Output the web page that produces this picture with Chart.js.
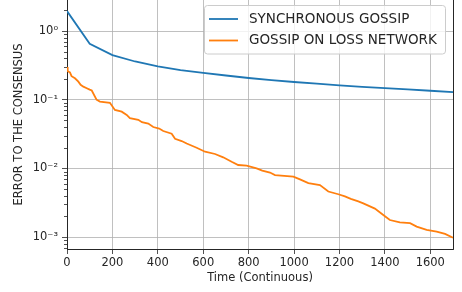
<!DOCTYPE html>
<html lang="en">
<head>
    <meta charset="UTF-8">
    <title>Error to the consensus</title>
    <script src="https://cdn.jsdelivr.net/npm/chart.js"></script>
    <style>
        html, body {
            margin: 0;
            padding: 0;
            background: white;
        }
        .chart-box {
            width: 462px;
            height: 292px;
        }
    </style>
</head>
<body>
    <div class="chart-box">
        <canvas id="errChart" width="462" height="292"></canvas>
    </div>

    <script>
        // series labels
        const seriesNames = ['SYNCHRONOUS GOSSIP', 'GOSSIP ON LOSS NETWORK'];

        // synchronous gossip: time / error
        const syncTime = [0, 100, 200, 300, 400, 500, 600, 700, 800, 900, 1000, 1100, 1200, 1300, 1400, 1500, 1600, 1700];
        const syncErr = [1.95, 0.65, 0.445, 0.36, 0.305, 0.27, 0.245, 0.225, 0.207, 0.193, 0.181, 0.171, 0.162, 0.154, 0.147, 0.141, 0.135, 0.129];

        // gossip on loss network: time / error (staircase)
        const lossTime = [0, 3, 13, 20, 35, 50, 60, 72, 87, 100, 109, 130, 145, 189, 211, 241, 263, 277, 314, 330, 358, 380, 406, 424, 461, 476, 505, 527, 571, 608, 652, 688, 725, 754, 791, 835, 860, 894, 916, 997, 1026, 1063, 1114, 1151, 1195, 1224, 1250, 1283, 1305, 1356, 1393, 1422, 1466, 1511, 1540, 1584, 1628, 1665, 1700];
        const lossErr = [0.30, 0.26, 0.25, 0.22, 0.205, 0.183, 0.165, 0.155, 0.147, 0.14, 0.136, 0.10, 0.094, 0.090, 0.071, 0.067, 0.060, 0.054, 0.051, 0.047, 0.045, 0.040, 0.038, 0.035, 0.032, 0.027, 0.025, 0.023, 0.020, 0.0175, 0.0162, 0.0145, 0.0125, 0.0112, 0.011, 0.0100, 0.0093, 0.0087, 0.0080, 0.0076, 0.0069, 0.0061, 0.0057, 0.0046, 0.0042, 0.0039, 0.0036, 0.0033, 0.0031, 0.0026, 0.0021, 0.00177, 0.00164, 0.00159, 0.00142, 0.00127, 0.0012, 0.00111, 0.00098];

        // axis ticks
        const xTicks = [0, 200, 400, 600, 800, 1000, 1200, 1400, 1600];
        const yTicks = [0.001, 0.01, 0.1, 1];
        const yTickLabels = ['10⁻³', '10⁻²', '10⁻¹', '10⁰'];

        const blue = '#1f77b4';
        const orange = '#ff7f0e';
        const textColor = '#262626';
        const font = "'DejaVu Sans', sans-serif";

        const toPoints = (xs, ys) => xs.map((x, i) => ({ x: x, y: ys[i] }));

        // right spine + minor log ticks
        const framePlugin = {
            id: 'frame',
            afterDraw(chart) {
                const ctx = chart.ctx;
                const area = chart.chartArea;
                const y = chart.scales.y;
                ctx.save();
                ctx.strokeStyle = textColor;
                ctx.lineWidth = 1;
                ctx.beginPath();
                ctx.moveTo(Math.round(area.right) + 0.5, area.top);
                ctx.lineTo(Math.round(area.right) + 0.5, area.bottom);
                ctx.stroke();
                ctx.lineWidth = 0.8;
                for (let n = -4; n <= 0; n++) {
                    for (let m = 2; m <= 9; m++) {
                        const v = m * Math.pow(10, n);
                        if (v < y.min || v > y.max) continue;
                        const py = Math.round(y.getPixelForValue(v)) + 0.5;
                        ctx.beginPath();
                        ctx.moveTo(area.left - 3, py);
                        ctx.lineTo(area.left, py);
                        ctx.stroke();
                    }
                }
                ctx.restore();
            }
        };

        // legend box in the upper right, like matplotlib
        const legendPlugin = {
            id: 'boxLegend',
            afterDraw(chart) {
                const ctx = chart.ctx;
                const colors = [blue, orange];
                const rows = [19, 40.5];
                ctx.save();
                ctx.beginPath();
                ctx.roundRect(204.5, 5.5, 241, 48.5, 3);
                ctx.fillStyle = 'rgba(255,255,255,0.8)';
                ctx.fill();
                ctx.strokeStyle = '#cccccc';
                ctx.lineWidth = 1;
                ctx.stroke();
                ctx.font = '13.5px ' + font;
                ctx.textBaseline = 'middle';
                ctx.fillStyle = textColor;
                seriesNames.forEach((name, i) => {
                    ctx.strokeStyle = colors[i];
                    ctx.lineWidth = 1.8;
                    ctx.beginPath();
                    ctx.moveTo(209, rows[i]);
                    ctx.lineTo(238, rows[i]);
                    ctx.stroke();
                    ctx.fillText(name, 249, rows[i]);
                });
                ctx.restore();
            }
        };

        new Chart(document.getElementById('errChart'), {
            type: 'line',
            data: {
                datasets: [
                    {
                        label: seriesNames[0],
                        data: toPoints(syncTime, syncErr),
                        borderColor: blue,
                        borderWidth: 1.8,
                        pointRadius: 0,
                        tension: 0
                    },
                    {
                        label: seriesNames[1],
                        data: toPoints(lossTime, lossErr),
                        borderColor: orange,
                        borderWidth: 1.8,
                        pointRadius: 0,
                        tension: 0
                    }
                ]
            },
            options: {
                responsive: false,
                animation: false,
                layout: { padding: { top: 0, right: 9, left: 0, bottom: 0 } },
                plugins: {
                    legend: { display: false },
                    tooltip: { enabled: false }
                },
                scales: {
                    x: {
                        type: 'linear',
                        min: 0,
                        max: 1700,
                        afterBuildTicks: (scale) => {
                            scale.ticks = xTicks.map(v => ({ value: v }));
                        },
                        afterFit: (scale) => {
                            scale.height = 43;
                            scale.paddingLeft = 0;
                            scale.paddingRight = 0;
                        },
                        grid: {
                            color: '#b0b0b0',
                            lineWidth: 0.8,
                            tickColor: textColor,
                            tickLength: 5
                        },
                        border: { color: textColor, width: 1 },
                        ticks: {
                            color: textColor,
                            font: { family: font, size: 11.5 },
                            padding: 2,
                            maxRotation: 0,
                            callback: (v) => String(v)
                        },
                        title: {
                            display: true,
                            text: 'Time (Continuous)',
                            color: textColor,
                            font: { family: font, size: 11.5 },
                            padding: { top: 7, bottom: 7 }
                        }
                    },
                    y: {
                        type: 'logarithmic',
                        min: 0.00067,
                        max: 2.83,
                        afterBuildTicks: (scale) => {
                            scale.ticks = yTicks.map(v => ({ value: v }));
                        },
                        afterFit: (scale) => {
                            scale.width = 67;
                            scale.paddingTop = 0;
                            scale.paddingBottom = 0;
                        },
                        grid: {
                            color: '#b0b0b0',
                            lineWidth: 0.8,
                            tickColor: textColor,
                            tickLength: 5
                        },
                        border: { color: textColor, width: 1 },
                        ticks: {
                            color: textColor,
                            font: { family: font, size: 11.5 },
                            padding: 4,
                            callback: (v) => {
                                const i = yTicks.findIndex(t => Math.abs(t - v) / t < 1e-6);
                                return i >= 0 ? yTickLabels[i] : '';
                            }
                        },
                        title: {
                            display: true,
                            text: 'ERROR TO THE CONSENSUS',
                            color: textColor,
                            font: { family: font, size: 11.5 },
                            padding: { top: 12, bottom: 12 }
                        }
                    }
                }
            },
            plugins: [framePlugin, legendPlugin]
        });
    </script>
</body>
</html>
